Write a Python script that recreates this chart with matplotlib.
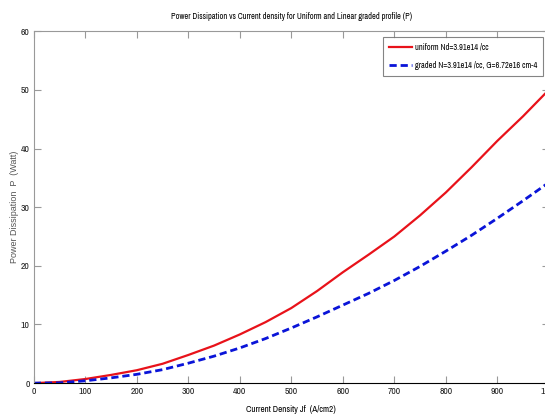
import numpy as np
import matplotlib.pyplot as plt

# Stromdichte (A/cm2)
jf = [0, 50, 100, 150, 200, 250, 300, 350, 400, 450, 500, 550, 600,
      650, 700, 750, 800, 850, 900, 950, 1000]
# Leistung uniform (Watt)
p_uniform = [0, 0.2, 0.7, 1.4, 2.2, 3.3, 4.8, 6.4, 8.3, 10.4, 12.8, 15.7, 18.9,
             21.9, 25.0, 28.6, 32.5, 36.8, 41.3, 45.5, 50.0]
# Leistung graded (Watt)
p_graded = [0, 0.05, 0.4, 0.9, 1.5, 2.3, 3.4, 4.6, 6.0, 7.6, 9.4, 11.3, 13.3,
            15.3, 17.5, 19.9, 22.5, 25.2, 28.1, 31.1, 34.2]

plt.rcParams['font.family'] = ['Archivo Narrow', 'PT Sans Narrow', 'DejaVu Sans']

fig = plt.figure(figsize=(5.45, 4.16), dpi=100)
ax = fig.add_axes([0.062, 0.079, 0.945, 0.846])

ax.plot(jf, p_uniform, color='#e8121a', linewidth=1.6,
        label='uniform Nd=3.91e14 /cc')
ax.plot(jf, p_graded, color='#0a14d8', linewidth=2.0, linestyle=(0, (2.6, 1.4)),
        label='graded N=3.91e14 /cc, G=6.72e16 cm-4')

ax.set_xlim(0, 1000)
ax.set_ylim(0, 60)
ax.set_xticks(np.arange(0, 1001, 100))
ax.set_yticks(np.arange(0, 61, 10))

ax.tick_params(direction='in', length=5, width=0.8, color='#999999',
               labelsize=7, top=True, right=True, pad=3, labelcolor='#222222')
for s in ['left', 'top', 'right']:
    ax.spines[s].set_color('#999999')
ax.spines['bottom'].set_color('black')

ax.set_title('Power Dissipation vs Current density for Uniform and Linear graded profile (P)',
             fontsize=6, pad=9)
ax.set_xlabel('Current Density Jf  (A/cm2)', fontsize=6.5, labelpad=6)
ax.set_ylabel('Power Dissipation  P  (Watt)', fontsize=6.5, labelpad=1,
              family='Liberation Sans', color='#555555')

leg = ax.legend(loc='upper right', fontsize=6, frameon=True, fancybox=False,
                edgecolor='#666666', borderaxespad=0.7, handlelength=2.8,
                labelspacing=1.1, borderpad=0.7, handletextpad=0.3)
leg.get_frame().set_linewidth(0.8)

plt.savefig('out.png', dpi=100)
